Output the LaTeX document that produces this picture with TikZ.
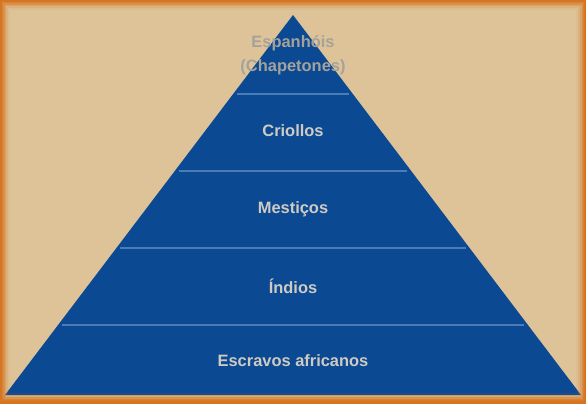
\documentclass[tikz,border=0pt]{standalone}
\usepackage{fontspec}
\setmainfont{Liberation Sans}
\definecolor{bgtan}{HTML}{DEC398}
\definecolor{frameor}{HTML}{D7741F}
\definecolor{pyrblue}{HTML}{0B4993}
\definecolor{divline}{HTML}{4A7DB8}
\definecolor{labtxt}{HTML}{CFCBC2}
\begin{document}
\begin{tikzpicture}[x=1bp,y=-1bp,
  lab/.style={font=\bfseries\fontsize{16.5}{24}\selectfont, text=labtxt, align=center, inner sep=0pt},
  divider/.style={draw=divline, line width=1.2bp}]
\useasboundingbox (0,0) rectangle (586,403);
\fill[bgtan] (0,0) rectangle (586,403);
% pyramid
\coordinate (apex) at (293,15);
\coordinate (bl) at (5,395);
\coordinate (br) at (581,395);
\fill[pyrblue] (apex) -- (br) -- (bl) -- cycle;
% dividers
\foreach \yy in {94,171,248,325}{
  \pgfmathsetmacro{\dx}{0.7579*(\yy-15)-4}
  \draw[divider] (293-\dx,\yy) -- (293+\dx,\yy);
}
% frame glow
\foreach \w/\o in {2/0.9,4/0.7,6/0.5,9/0.35,12/0.25,16/0.15,20/0.08}{
  \draw[frameor, opacity=\o, line width=\w bp] (0,0) rectangle (586,403);
}
\foreach \w/\o in {4/0.5,8/0.3,12/0.18,16/0.1}{
  \draw[frameor, opacity=\o, line width=\w bp] (0,403) -- (586,403);
}
% labels
\node[lab, text=labtxt!80!black] (l1) at (293,55) {Espanhóis\\(Chapetones)};
\node[lab] (l2) at (293,131) {Criollos};
\node[lab] (l3) at (293,209) {Mestiços};
\node[lab] (l4) at (293,286) {Índios};
\node[lab] (l5) at (293,361) {Escravos africanos};
\end{tikzpicture}
\end{document}
